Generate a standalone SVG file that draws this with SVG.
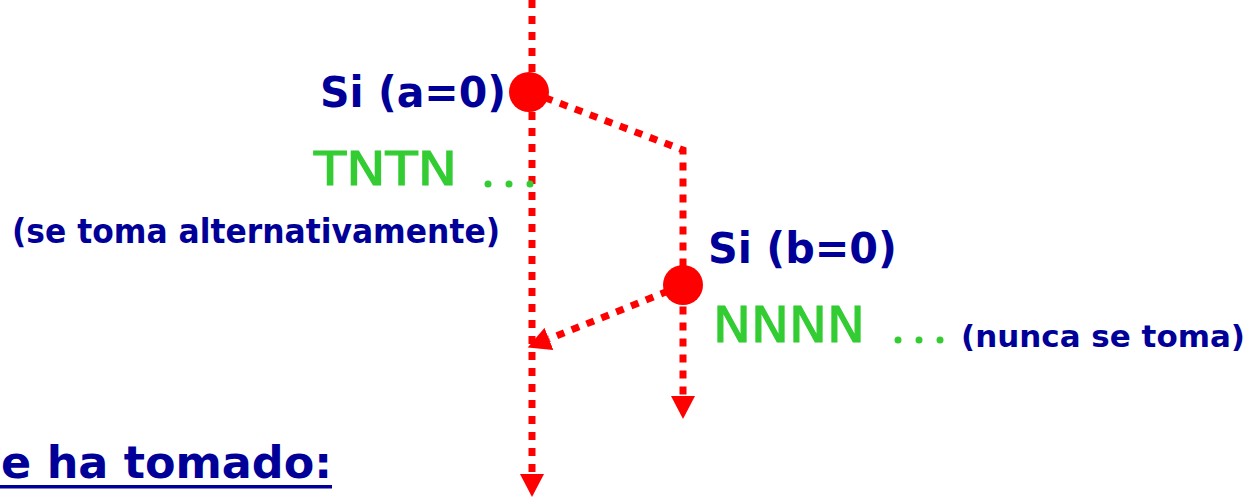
<svg xmlns="http://www.w3.org/2000/svg" width="1257" height="499" viewBox="0 0 1257 499">
<style>
.flow{fill:none;stroke:#FF0000;stroke-width:7;stroke-dasharray:8 8}
.node{fill:#FF0000}
.lbl{font-family:"DejaVu Sans","Liberation Sans",sans-serif;font-weight:bold;fill:#000099}
.pat{font-family:"DejaVu Sans","Liberation Sans",sans-serif;fill:#33CC33;stroke:#33CC33;stroke-width:1.2}
.dot{fill:#33CC33}
</style>
<defs>
<marker id="ah" viewBox="0 0 24 24" refX="0" refY="12" markerWidth="24" markerHeight="24" markerUnits="userSpaceOnUse" orient="auto">
<path d="M0,0 L23,12 L0,24 Z" fill="#FF0000"/>
</marker>
</defs>
<rect width="1257" height="499" fill="#FFFFFF"/>
<g id="connectors">
<path class="flow" d="M532,0 L532,474" marker-end="url(#ah)"/>
<path class="flow" d="M530,92 L683,150 L683,396" marker-end="url(#ah)"/>
<path class="flow" d="M683,285 L549,339" marker-end="url(#ah)"/>
</g>
<g id="node-a">
<circle class="node" cx="529" cy="92" r="20"/>
<text class="lbl" x="320" y="107" font-size="43" textLength="186" lengthAdjust="spacingAndGlyphs">Si (a=0)</text>
<text class="pat" x="314" y="185" font-size="47" textLength="143" lengthAdjust="spacingAndGlyphs">TNTN</text>
<circle class="dot" cx="488" cy="184" r="3.5"/>
<circle class="dot" cx="509" cy="184" r="3.5"/>
<circle class="dot" cx="530" cy="184" r="3.5"/>
<text class="lbl" x="12" y="243" font-size="33" textLength="488" lengthAdjust="spacingAndGlyphs">(se toma alternativamente)</text>
</g>
<g id="node-b">
<circle class="node" cx="683" cy="285" r="20"/>
<text class="lbl" x="708" y="263" font-size="43" textLength="189" lengthAdjust="spacingAndGlyphs">Si (b=0)</text>
<text class="pat" x="713" y="342" font-size="50" textLength="152" lengthAdjust="spacingAndGlyphs">NNNN</text>
<circle class="dot" cx="898" cy="340" r="3.5"/>
<circle class="dot" cx="919" cy="340" r="3.5"/>
<circle class="dot" cx="940" cy="340" r="3.5"/>
<text class="lbl" x="961" y="347" font-size="31" textLength="284" lengthAdjust="spacingAndGlyphs">(nunca se toma)</text>
</g>
<g id="heading">
<text class="lbl" x="1" y="478" font-size="45" textLength="331" lengthAdjust="spacingAndGlyphs">e ha tomado:</text>
<rect x="0" y="485" width="332" height="3.5" fill="#000099"/>
</g>
</svg>
